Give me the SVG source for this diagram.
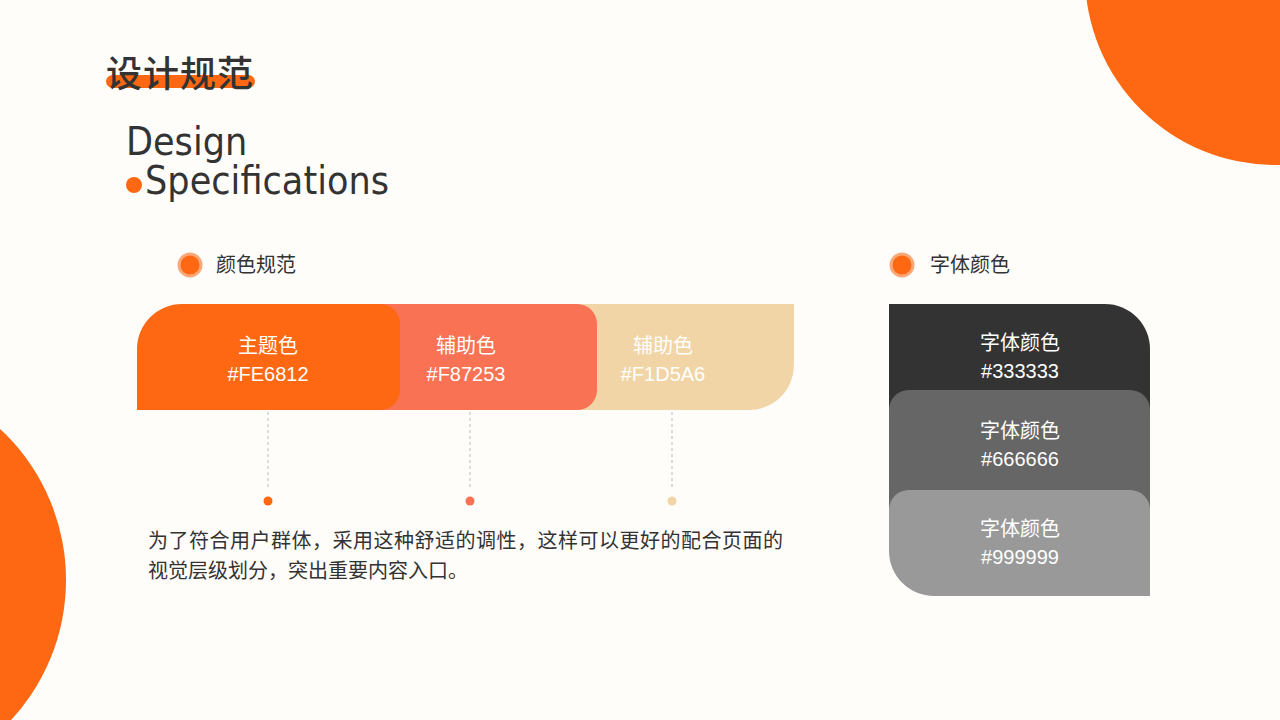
<svg xmlns="http://www.w3.org/2000/svg" width="1280" height="720" viewBox="0 0 1280 720">
<style>
.cn{font-family:"Noto Sans CJK SC","Noto Sans",sans-serif}
.w{fill:#fff;text-anchor:middle;font-size:20px}
.hex{font-family:"Liberation Sans","Noto Sans",sans-serif;fill:#fff;text-anchor:middle;font-size:20px}
.dash{stroke:#bbb;stroke-width:1;stroke-dasharray:3 3}
</style>
<rect width="1280" height="720" fill="#fffdf9"/>
<circle cx="1275" cy="-25" r="190" fill="#fe6812"/>
<circle cx="-140" cy="580" r="206" fill="#fe6812"/>
<g id="title">
<rect x="106" y="75" width="149" height="13" rx="6.5" fill="#fe6812"/>
<text x="106" y="87" class="cn" font-size="36" font-weight="500" fill="#333" textLength="147">设计规范</text>
<text x="126" y="155" font-family="DejaVu Sans Condensed,Liberation Sans,sans-serif" font-size="39" fill="#333">Design</text>
<circle cx="134" cy="185" r="8" fill="#fe6812"/>
<text x="145" y="194" font-family="DejaVu Sans Condensed,Liberation Sans,sans-serif" font-size="39" fill="#333" textLength="244">Specifications</text>
</g>
<g id="head-color">
<circle cx="190" cy="265" r="11" fill="#fe6812" stroke="#fba777" stroke-width="3"/>
<text x="216" y="272" class="cn" font-size="20" fill="#333">颜色规范</text>
</g>
<g id="head-font">
<circle cx="902" cy="265" r="11" fill="#fe6812" stroke="#fba777" stroke-width="3"/>
<text x="930" y="272" class="cn" font-size="20" fill="#333">字体颜色</text>
</g>
<g id="swatch-3">
<path d="M560,304 H794 V365 A45 45 0 0 1 749,410 H560 Z" fill="#f1d5a6"/>
<text x="663" y="353" class="cn w">辅助色</text>
<text x="663" y="381" class="hex">#F1D5A6</text>
</g>
<g id="swatch-2">
<path d="M330,304 H577 A20 20 0 0 1 597,324 V390 A20 20 0 0 1 577,410 H330 Z" fill="#f87253"/>
<text x="466" y="353" class="cn w">辅助色</text>
<text x="466" y="381" class="hex">#F87253</text>
</g>
<g id="swatch-1">
<path d="M137,410 V349 A45 45 0 0 1 182,304 H380 A20 20 0 0 1 400,324 V390 A20 20 0 0 1 380,410 Z" fill="#fe6812"/>
<text x="268" y="353" class="cn w">主题色</text>
<text x="268" y="381" class="hex">#FE6812</text>
</g>
<g id="connectors">
<line x1="268" y1="412" x2="268" y2="490" class="dash"/>
<line x1="470" y1="412" x2="470" y2="490" class="dash"/>
<line x1="672" y1="412" x2="672" y2="490" class="dash"/>
<circle cx="268" cy="501" r="4.5" fill="#fe6812"/>
<circle cx="470" cy="501" r="4.5" fill="#f87253"/>
<circle cx="672" cy="501" r="4.5" fill="#f1d5a6"/>
</g>
<g id="desc">
<text x="148" y="548" class="cn" font-size="20" fill="#333" textLength="635">为了符合用户群体，采用这种舒适的调性，这样可以更好的配合页面的</text>
<text x="148" y="578" class="cn" font-size="20" fill="#333">视觉层级划分，突出重要内容入口。</text>
</g>
<g id="font-1">
<path d="M889,304 H1105 A45 45 0 0 1 1150,349 V420 H889 Z" fill="#333333"/>
<text x="1020" y="350" class="cn w">字体颜色</text>
<text x="1020" y="378" class="hex">#333333</text>
</g>
<g id="font-2">
<path d="M889,410 A20 20 0 0 1 909,390 H1130 A20 20 0 0 1 1150,410 V520 H889 Z" fill="#666666"/>
<text x="1020" y="438" class="cn w">字体颜色</text>
<text x="1020" y="466" class="hex">#666666</text>
</g>
<g id="font-3">
<path d="M889,510 A20 20 0 0 1 909,490 H1130 A20 20 0 0 1 1150,510 V596 H934 A45 45 0 0 1 889,551 Z" fill="#999999"/>
<text x="1020" y="536" class="cn w">字体颜色</text>
<text x="1020" y="564" class="hex">#999999</text>
</g>
</svg>
